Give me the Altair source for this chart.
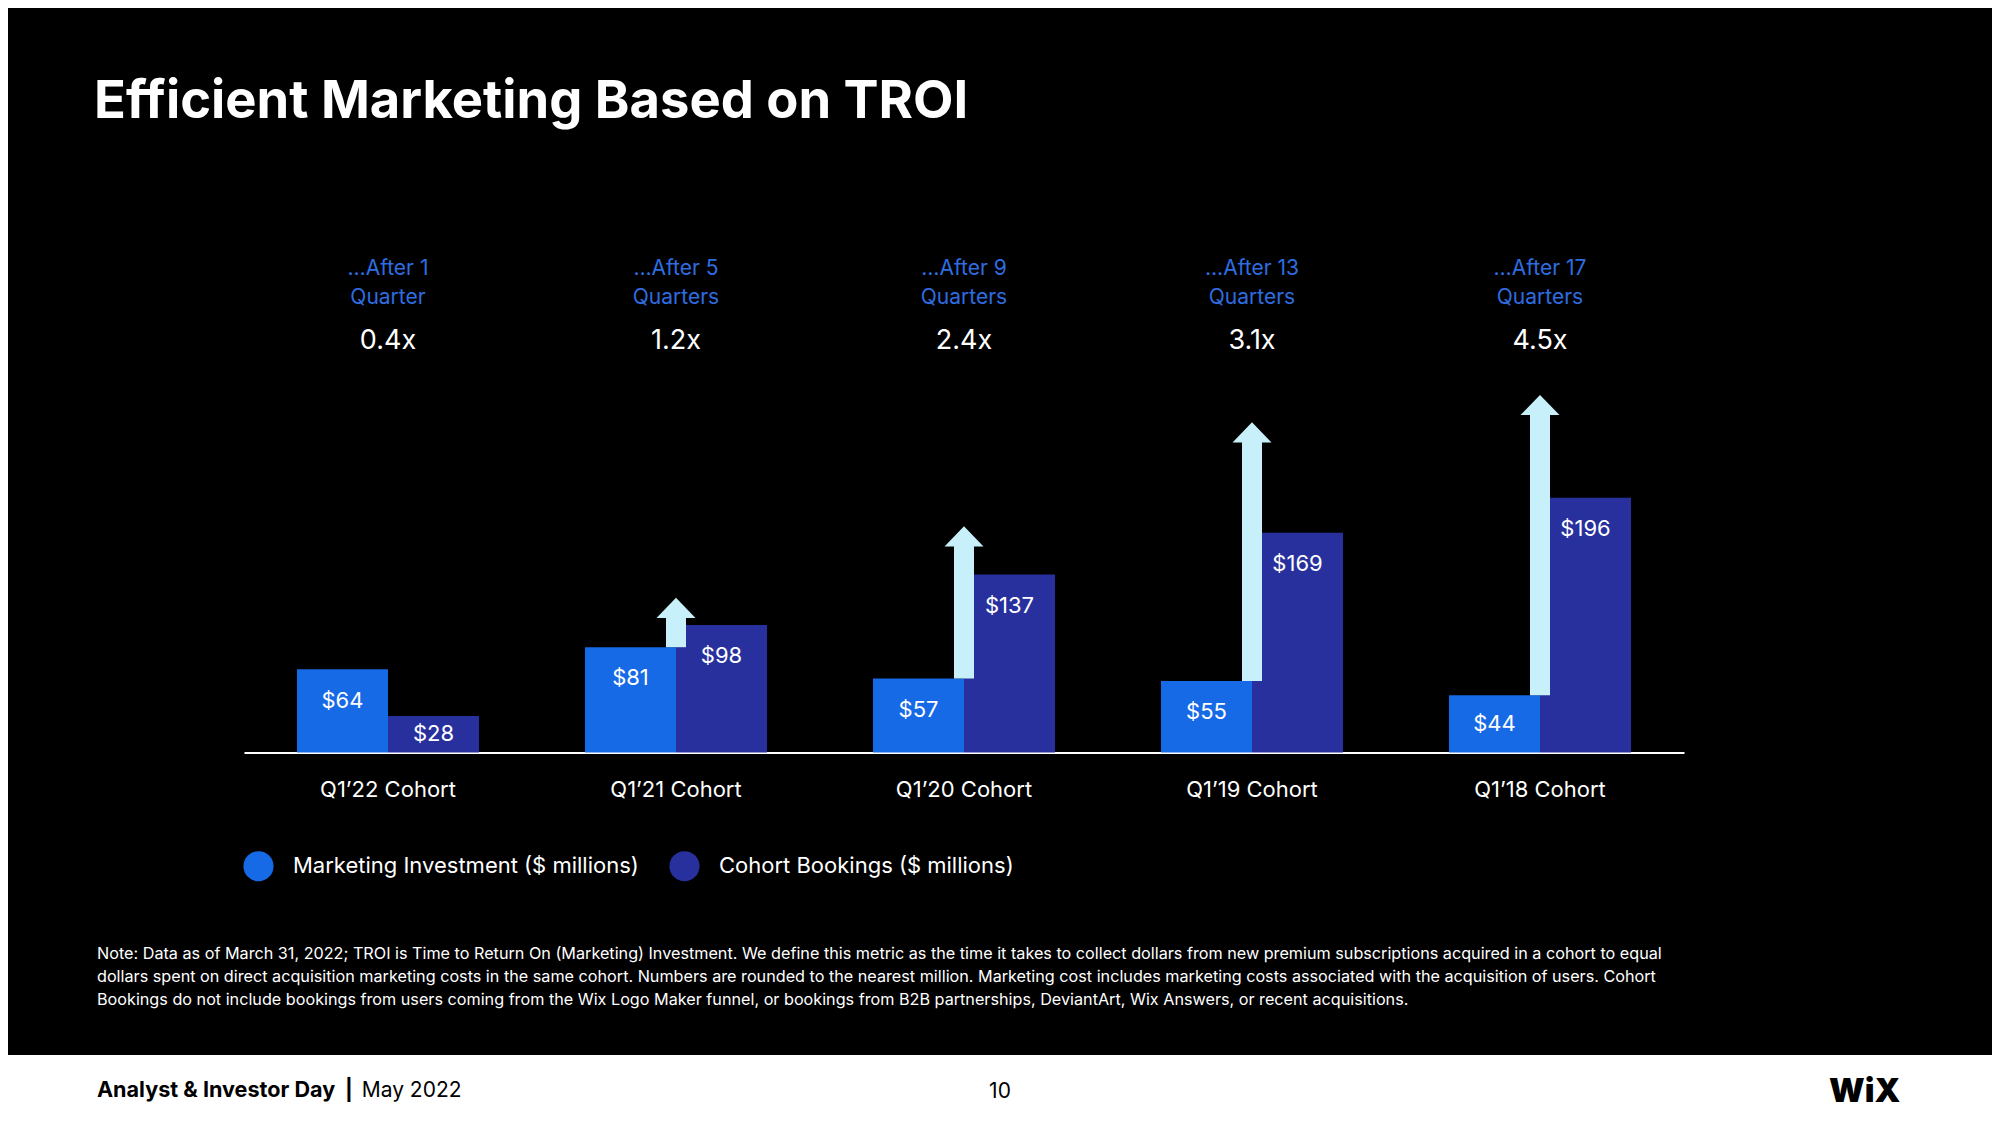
import altair as alt
import pandas as pd

# ---------------- data ----------------
cohorts = ["Q1’22 Cohort", "Q1’21 Cohort", "Q1’20 Cohort", "Q1’19 Cohort", "Q1’18 Cohort"]
investment = [64, 81, 57, 55, 44]
bookings = [28, 98, 137, 169, 196]
after_text = ["…After 1", "…After 5", "…After 9", "…After 13", "…After 17"]
period_text = ["Quarter", "Quarters", "Quarters", "Quarters", "Quarters"]
troi_multiple = ["0.4x", "1.2x", "2.4x", "3.1x", "4.5x"]
arrow_tip = [None, 119, 174, 254, 275]
series_names = ["Marketing Investment ($ millions)", "Cohort Bookings ($ millions)"]
series_colors = ["#176ae6", "#28309e"]

title_text = "Efficient Marketing Based on TROI"
note_lines = [
    "Note: Data as of March 31, 2022; TROI is Time to Return On (Marketing) Investment. We define this metric as the time it takes to collect dollars from new premium subscriptions acquired in a cohort to equal",
    "dollars spent on direct acquisition marketing costs in the same cohort.  Numbers are rounded to the nearest million. Marketing cost includes marketing costs associated with the acquisition of users. Cohort",
    "Bookings do not include bookings from users coming from the Wix Logo Maker funnel, or bookings from B2B partnerships, DeviantArt, Wix Answers, or recent acquisitions.",
]
footer_bold = "Analyst & Investor Day"
footer_date = "May 2022"
page_number = "10"
logo_text = "WiX"

# ---------------- layout ----------------
FONT = "Inter"
W, H = 1440, 390
PAD_L, PAD_T = 236, 354.5
TOTAL_W, TOTAL_H = 1984, 1109
PAD_R = TOTAL_W - PAD_L - W
PAD_B = TOTAL_H - PAD_T - H
Y_MAX = 300
PX_PER_UNIT = H / Y_MAX
HEAD_UNITS = 20 / PX_PER_UNIT
ARROW_COLOR = "#c8f0fa"
HEADER_BLUE = "#2f6de1"


def px(x):
    return x - 8 - PAD_L


def py(y):
    return y - 8 - PAD_T


rows = []
for c, inv, bk in zip(cohorts, investment, bookings):
    rows.append({"cohort": c, "series": series_names[0], "value": inv})
    rows.append({"cohort": c, "series": series_names[1], "value": bk})
bars_df = pd.DataFrame(rows)
bars_df["label"] = "$" + bars_df["value"].astype(str)
bars_df["label_y"] = [max(v - 24, v / 2) for v in bars_df["value"]]

head_df = pd.DataFrame({"cohort": cohorts, "after": after_text, "period": period_text,
                        "multiple": troi_multiple})

arrow_rows = []
for c, inv, tip in zip(cohorts, investment, arrow_tip):
    if tip is not None:
        arrow_rows.append({"cohort": c, "start": inv, "shaft_end": tip - HEAD_UNITS + 0.5, "tip": tip})
arrow_df = pd.DataFrame(arrow_rows)

one = pd.DataFrame({"k": [0]})

x_enc = alt.X(
    "cohort:N",
    sort=cohorts,
    scale=alt.Scale(domain=cohorts, paddingInner=0, paddingOuter=0),
    axis=alt.Axis(title=None, labelAngle=0, labelFontSize=22, labelColor="white", labelFont=FONT,
                  labelPadding=27, labelLimit=0, ticks=False, grid=False,
                  domainColor="white", domainWidth=2),
)
y_scale = alt.Scale(domain=[0, Y_MAX], nice=False, zero=True)
xoff = alt.XOffset("series:N", scale=alt.Scale(domain=series_names, paddingInner=0, paddingOuter=0.582))

footer_band = alt.Chart(one).mark_rect(color="white").encode(
    x=alt.value(-PAD_L), x2=alt.value(W + PAD_R), y=alt.value(py(1055)), y2=alt.value(H + PAD_B)
)

bars = alt.Chart(bars_df).mark_bar(opacity=1).encode(
    x=x_enc,
    xOffset=xoff,
    y=alt.Y("value:Q", scale=y_scale, axis=None),
    color=alt.Color(
        "series:N",
        scale=alt.Scale(domain=series_names, range=series_colors),
        legend=alt.Legend(
            title=None, orient="none", legendX=px(243), legendY=py(850.5), direction="horizontal",
            symbolType="circle", symbolSize=908, symbolStrokeWidth=0, symbolOpacity=1,
            labelFontSize=22, labelColor="white", labelFont=FONT, labelOffset=19,
            columnPadding=30, padding=0, labelLimit=0,
        ),
    ),
)

shaft = alt.Chart(arrow_df).mark_bar(size=20, color=ARROW_COLOR, opacity=1).encode(
    x=x_enc,
    y=alt.Y("start:Q", scale=y_scale, axis=None),
    y2="shaft_end:Q",
)

head = alt.Chart(arrow_df).mark_point(
    shape="M0,0L1,1.03L-1,1.03Z", size=1521, filled=True, opacity=1, color=ARROW_COLOR, strokeWidth=0
).encode(
    x=x_enc,
    y=alt.Y("tip:Q", scale=y_scale, axis=None),
)

bar_labels = alt.Chart(bars_df).mark_text(
    font=FONT, fontSize=22, color="white", baseline="middle", align="center"
).encode(
    x=x_enc,
    xOffset=xoff,
    y=alt.Y("label_y:Q", scale=y_scale, axis=None),
    text="label:N",
)

after_lbl = alt.Chart(head_df).mark_text(
    font=FONT, fontSize=21, color=HEADER_BLUE, baseline="alphabetic", align="center"
).encode(x=x_enc, y=alt.value(py(274.5)), text="after:N")

period_lbl = alt.Chart(head_df).mark_text(
    font=FONT, fontSize=21, color=HEADER_BLUE, baseline="alphabetic", align="center"
).encode(x=x_enc, y=alt.value(py(304)), text="period:N")

mult_lbl = alt.Chart(head_df).mark_text(
    font=FONT, fontSize=27, color="white", baseline="alphabetic", align="center"
).encode(x=x_enc, y=alt.value(py(349.3)), text="multiple:N")

title = alt.Chart(one).mark_text(
    font=FONT, fontSize=52.5, fontWeight="bold", color="white", baseline="alphabetic", align="left",
    text=title_text,
).encode(x=alt.value(px(94)), y=alt.value(py(118)))

note = alt.Chart(one).mark_text(
    font=FONT, fontSize=16.2, color="white", baseline="alphabetic", align="left",
    lineHeight=23, text=note_lines,
).encode(x=alt.value(px(97)), y=alt.value(py(958.7)))

foot1 = alt.Chart(one).mark_text(
    font=FONT, fontSize=21.6, fontWeight="bold", color="black", baseline="alphabetic", align="left",
    text=footer_bold,
).encode(x=alt.value(px(97)), y=alt.value(py(1096.7)))

foot_bar = alt.Chart(one).mark_text(
    font=FONT, fontSize=21, fontWeight="bold", color="black", baseline="alphabetic", align="center",
    text="|",
).encode(x=alt.value(px(349)), y=alt.value(py(1096.7)))

foot2 = alt.Chart(one).mark_text(
    font=FONT, fontSize=21, color="black", baseline="alphabetic", align="left",
    text=footer_date,
).encode(x=alt.value(px(361.7)), y=alt.value(py(1096.7)))

page_no = alt.Chart(one).mark_text(
    font=FONT, fontSize=21, color="black", baseline="alphabetic", align="center",
    text=page_number,
).encode(x=alt.value(px(1000)), y=alt.value(py(1097.5)))

logo = alt.Chart(one).mark_text(
    font=FONT, fontSize=33, fontWeight=900, color="black", baseline="alphabetic", align="left",
    text=logo_text,
).encode(x=alt.value(px(1829)), y=alt.value(py(1102)))

chart = alt.layer(
    footer_band, bars, shaft, head, bar_labels, after_lbl, period_lbl, mult_lbl,
    title, note, foot1, foot_bar, foot2, page_no, logo,
).properties(
    width=W, height=H,
    autosize=alt.AutoSizeParams(type="none"),
    padding={"left": PAD_L, "top": PAD_T, "right": PAD_R, "bottom": PAD_B},
    background="black",
).configure_view(stroke=None)

chart.save("out.html", embed_options={"renderer": "svg", "actions": False})
